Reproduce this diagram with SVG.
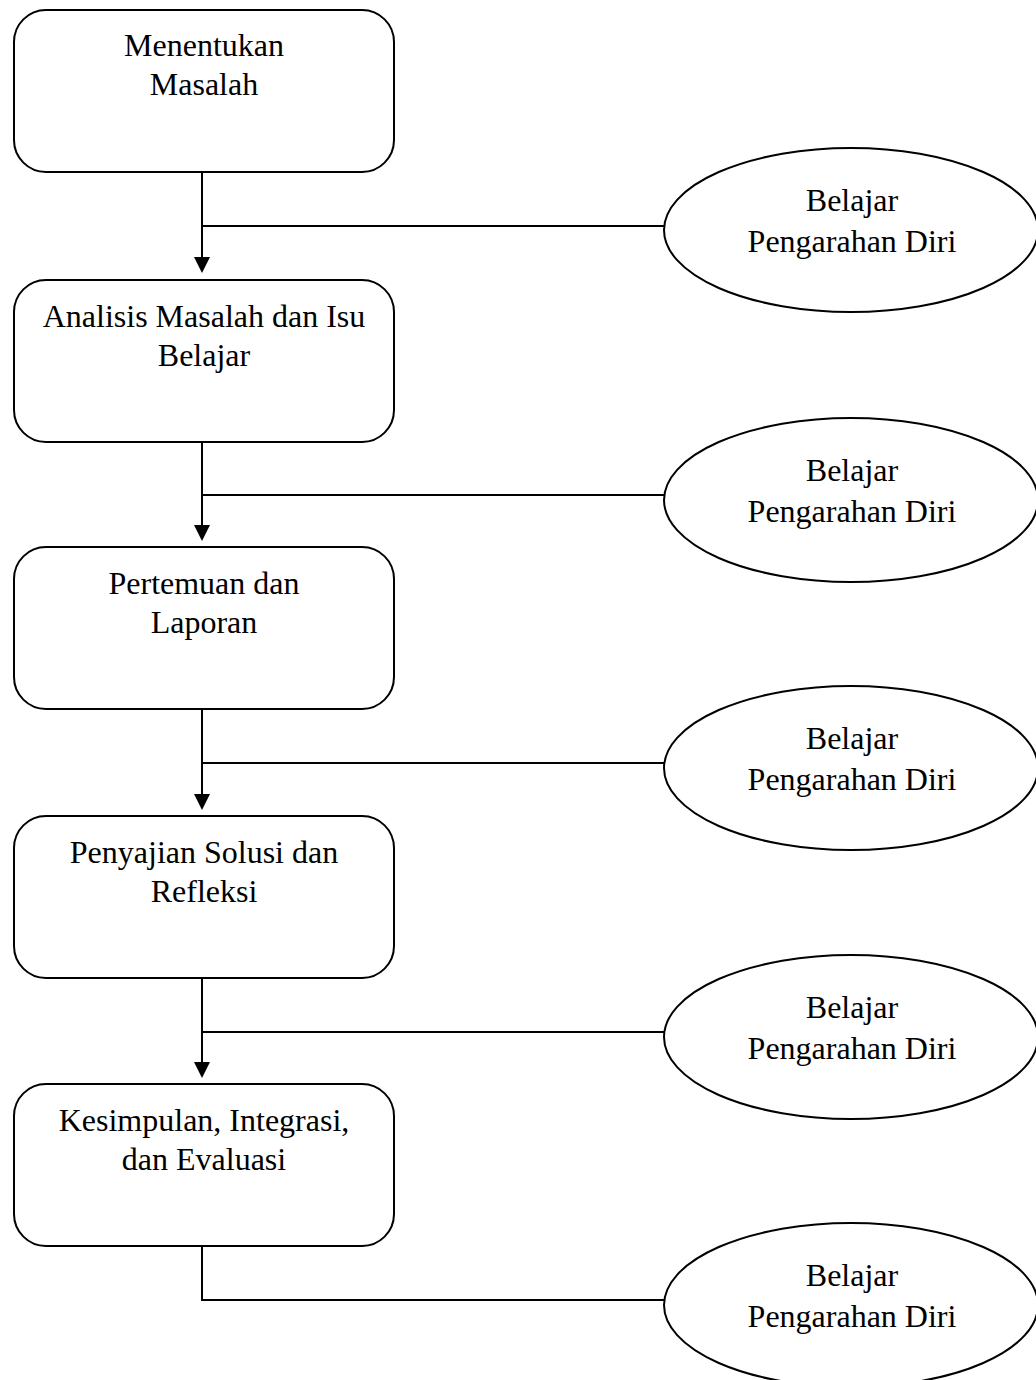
<svg xmlns="http://www.w3.org/2000/svg" width="1036" height="1380" viewBox="0 0 1036 1380">
<style>
.box{fill:#fff;stroke:#000;stroke-width:2}
.ell{fill:#fff;stroke:#000;stroke-width:2}
.ln{fill:none;stroke:#000;stroke-width:2}
.ah{fill:#000}
text{font-family:"Liberation Serif","Times New Roman",serif;font-size:32px;fill:#000;text-anchor:middle}
</style>
<rect width="1036" height="1380" fill="#fff"/>
<g id="connectors">
<line class="ln" x1="202" y1="172" x2="202" y2="258"/>
<path class="ah" d="M194,257 L210,257 L202,273 Z"/>
<line class="ln" x1="202" y1="226" x2="664" y2="226"/>
<line class="ln" x1="202" y1="442" x2="202" y2="526"/>
<path class="ah" d="M194,525 L210,525 L202,541 Z"/>
<line class="ln" x1="202" y1="495" x2="664" y2="495"/>
<line class="ln" x1="202" y1="709" x2="202" y2="795"/>
<path class="ah" d="M194,794 L210,794 L202,810 Z"/>
<line class="ln" x1="202" y1="763" x2="664" y2="763"/>
<line class="ln" x1="202" y1="978" x2="202" y2="1063"/>
<path class="ah" d="M194,1062 L210,1062 L202,1078 Z"/>
<line class="ln" x1="202" y1="1032" x2="664" y2="1032"/>
<polyline class="ln" points="202,1246 202,1300 664,1300"/>
</g>
<g id="n1"><rect class="box" x="14" y="10" width="380" height="162" rx="32" ry="32"/><text x="204" y="56">Menentukan</text><text x="204" y="95">Masalah</text></g>
<g id="n2"><rect class="box" x="14" y="280" width="380" height="162" rx="32" ry="32"/><text x="204" y="327">Analisis Masalah dan Isu</text><text x="204" y="366">Belajar</text></g>
<g id="n3"><rect class="box" x="14" y="547" width="380" height="162" rx="32" ry="32"/><text x="204" y="594">Pertemuan dan</text><text x="204" y="633">Laporan</text></g>
<g id="n4"><rect class="box" x="14" y="816" width="380" height="162" rx="32" ry="32"/><text x="204" y="863">Penyajian Solusi dan</text><text x="204" y="902">Refleksi</text></g>
<g id="n5"><rect class="box" x="14" y="1084" width="380" height="162" rx="32" ry="32"/><text x="204" y="1131">Kesimpulan, Integrasi,</text><text x="204" y="1170">dan Evaluasi</text></g>
<g id="e1"><ellipse class="ell" cx="851" cy="230" rx="187" ry="82"/><text x="852" y="211">Belajar</text><text x="852" y="252">Pengarahan Diri</text></g>
<g id="e2"><ellipse class="ell" cx="851" cy="500" rx="187" ry="82"/><text x="852" y="481">Belajar</text><text x="852" y="522">Pengarahan Diri</text></g>
<g id="e3"><ellipse class="ell" cx="851" cy="768" rx="187" ry="82"/><text x="852" y="749">Belajar</text><text x="852" y="790">Pengarahan Diri</text></g>
<g id="e4"><ellipse class="ell" cx="851" cy="1037" rx="187" ry="82"/><text x="852" y="1018">Belajar</text><text x="852" y="1059">Pengarahan Diri</text></g>
<g id="e5"><ellipse class="ell" cx="851" cy="1305" rx="187" ry="82"/><text x="852" y="1286">Belajar</text><text x="852" y="1327">Pengarahan Diri</text></g>
</svg>
